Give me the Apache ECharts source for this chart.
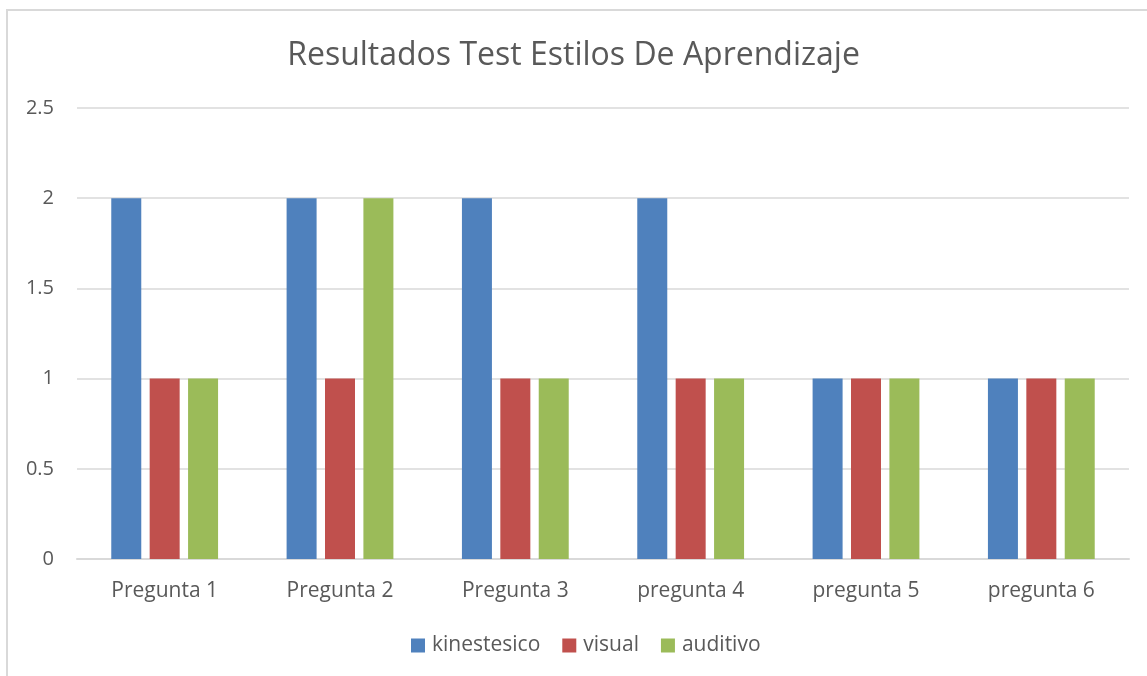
<!DOCTYPE html>
<html>
<head>
<meta charset="utf-8">
<script src="https://cdn.jsdelivr.net/npm/echarts@6/dist/echarts.min.js"></script>
<style>
  html, body { margin: 0; padding: 0; background: #fff; }
  #chart { width: 1147px; height: 676px; }
</style>
</head>
<body>
<div id="chart"></div>
<script>
const categories = ['Pregunta 1', 'Pregunta 2', 'Pregunta 3', 'pregunta 4', 'pregunta 5', 'pregunta 6'];
const kinestesico = [2, 2, 2, 2, 1, 1];
const visual = [1, 1, 1, 1, 1, 1];
const auditivo = [1, 2, 1, 1, 1, 1];

const font = 'Open Sans';
const chart = echarts.init(document.getElementById('chart'));

chart.setOption({
  animation: false,
  textStyle: { fontFamily: font },
  title: {
    text: 'Resultados Test Estilos De Aprendizaje',
    left: 'center',
    top: 35,
    textStyle: { fontFamily: font, fontSize: 32, fontWeight: 'normal', color: '#595959' }
  },
  graphic: [{
    type: 'rect',
    shape: { x: 7, y: 10, width: 1160, height: 700 },
    style: { fill: 'none', stroke: '#d9d9d9', lineWidth: 2 },
    silent: true
  }],
  legend: {
    bottom: 15,
    left: 406,
    itemWidth: 14,
    itemHeight: 14,
    itemGap: 22,
    icon: 'rect',
    textStyle: { fontFamily: font, fontSize: 21, color: '#595959', padding: [0, 0, 0, 2] }
  },
  grid: { left: 77, right: 18, top: 108, bottom: 117 },
  xAxis: {
    type: 'category',
    data: categories,
    axisLine: { lineStyle: { color: '#d9d9d9', width: 2 } },
    axisTick: { show: false },
    axisLabel: { fontFamily: font, fontSize: 21, color: '#595959', margin: 22 }
  },
  yAxis: {
    type: 'value',
    min: 0,
    max: 2.5,
    interval: 0.5,
    axisLine: { show: false },
    axisTick: { show: false },
    splitLine: { lineStyle: { color: '#d9d9d9', width: 1.5 } },
    axisLabel: { fontFamily: font, fontSize: 20, color: '#595959', margin: 23 }
  },
  series: [
    { name: 'kinestesico', type: 'bar', data: kinestesico, barWidth: 30, barGap: '28%', itemStyle: { color: '#4f81bd' } },
    { name: 'visual', type: 'bar', data: visual, barWidth: 30, barGap: '28%', itemStyle: { color: '#c0504d' } },
    { name: 'auditivo', type: 'bar', data: auditivo, barWidth: 30, barGap: '28%', itemStyle: { color: '#9bbb59' } }
  ]
});
</script>
</body>
</html>
